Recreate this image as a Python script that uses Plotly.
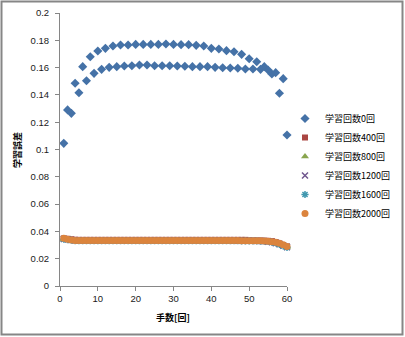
import plotly.graph_objects as go

moves = list(range(1, 61))

err_0 = [0.1045, 0.1290, 0.1265, 0.1485, 0.1416, 0.1607, 0.1504, 0.1680, 0.1558, 0.1722,
         0.1587, 0.1741, 0.1602, 0.1758, 0.1607, 0.1766, 0.1612, 0.1766, 0.1614, 0.1770,
         0.1619, 0.1770, 0.1619, 0.1770, 0.1614, 0.1770, 0.1614, 0.1773, 0.1614, 0.1770,
         0.1612, 0.1768, 0.1610, 0.1768, 0.1607, 0.1763, 0.1607, 0.1758, 0.1607, 0.1741,
         0.1602, 0.1736, 0.1599, 0.1724, 0.1597, 0.1716, 0.1595, 0.1697, 0.1590, 0.1665,
         0.1590, 0.1643, 0.1587, 0.1607, 0.1582, 0.1553, 0.1563, 0.1412, 0.1519, 0.1106]

err_400 = [0.0348, 0.0346, 0.0342, 0.0339, 0.0338, 0.0338, 0.0338, 0.0338, 0.0338, 0.0338,
           0.0338, 0.0338, 0.0338, 0.0338, 0.0338, 0.0338, 0.0338, 0.0338, 0.0338, 0.0338,
           0.0338, 0.0338, 0.0338, 0.0338, 0.0338, 0.0338, 0.0338, 0.0338, 0.0338, 0.0338,
           0.0338, 0.0338, 0.0338, 0.0338, 0.0338, 0.0338, 0.0338, 0.0338, 0.0338, 0.0338,
           0.0338, 0.0338, 0.0338, 0.0338, 0.0338, 0.0338, 0.0338, 0.0338, 0.0338, 0.0333,
           0.0333, 0.0333, 0.0333, 0.0332, 0.0331, 0.0329, 0.0322, 0.0312, 0.0300, 0.0290]

err_800 = [0.0343, 0.0340, 0.0336, 0.0333, 0.0332, 0.0332, 0.0332, 0.0332, 0.0332, 0.0332,
           0.0332, 0.0332, 0.0332, 0.0332, 0.0332, 0.0332, 0.0332, 0.0332, 0.0332, 0.0332,
           0.0332, 0.0332, 0.0332, 0.0332, 0.0332, 0.0332, 0.0332, 0.0332, 0.0332, 0.0332,
           0.0332, 0.0332, 0.0332, 0.0332, 0.0332, 0.0332, 0.0332, 0.0332, 0.0332, 0.0332,
           0.0332, 0.0332, 0.0332, 0.0332, 0.0332, 0.0331, 0.0331, 0.0331, 0.0330, 0.0330,
           0.0330, 0.0329, 0.0328, 0.0327, 0.0323, 0.0317, 0.0312, 0.0305, 0.0296, 0.0286]

err_1200 = [0.0344, 0.0341, 0.0337, 0.0334, 0.0333, 0.0333, 0.0333, 0.0333, 0.0333, 0.0333,
            0.0333, 0.0333, 0.0333, 0.0333, 0.0333, 0.0333, 0.0333, 0.0333, 0.0333, 0.0333,
            0.0333, 0.0333, 0.0333, 0.0333, 0.0333, 0.0333, 0.0333, 0.0333, 0.0333, 0.0333,
            0.0333, 0.0333, 0.0333, 0.0333, 0.0333, 0.0333, 0.0333, 0.0333, 0.0333, 0.0333,
            0.0333, 0.0333, 0.0333, 0.0333, 0.0333, 0.0332, 0.0332, 0.0332, 0.0331, 0.0331,
            0.0331, 0.0330, 0.0329, 0.0328, 0.0325, 0.0320, 0.0314, 0.0306, 0.0296, 0.0285]

err_1600 = [0.0343, 0.0340, 0.0336, 0.0333, 0.0332, 0.0332, 0.0332, 0.0332, 0.0332, 0.0332,
            0.0332, 0.0332, 0.0332, 0.0332, 0.0332, 0.0332, 0.0332, 0.0332, 0.0332, 0.0332,
            0.0332, 0.0332, 0.0332, 0.0332, 0.0332, 0.0332, 0.0332, 0.0332, 0.0332, 0.0332,
            0.0332, 0.0332, 0.0332, 0.0332, 0.0332, 0.0332, 0.0332, 0.0332, 0.0332, 0.0332,
            0.0332, 0.0332, 0.0332, 0.0332, 0.0332, 0.0332, 0.0332, 0.0331, 0.0331, 0.0331,
            0.0331, 0.0330, 0.0329, 0.0328, 0.0326, 0.0322, 0.0315, 0.0305, 0.0294, 0.0283]

err_2000 = [0.0350, 0.0343, 0.0337, 0.0334, 0.0333, 0.0333, 0.0333, 0.0333, 0.0333, 0.0333,
            0.0333, 0.0333, 0.0333, 0.0333, 0.0333, 0.0333, 0.0333, 0.0333, 0.0333, 0.0333,
            0.0333, 0.0333, 0.0333, 0.0333, 0.0333, 0.0333, 0.0333, 0.0333, 0.0333, 0.0333,
            0.0333, 0.0333, 0.0333, 0.0333, 0.0333, 0.0333, 0.0333, 0.0333, 0.0333, 0.0333,
            0.0333, 0.0333, 0.0333, 0.0333, 0.0333, 0.0333, 0.0333, 0.0332, 0.0332, 0.0332,
            0.0332, 0.0332, 0.0331, 0.0330, 0.0328, 0.0325, 0.0320, 0.0313, 0.0302, 0.0290]

series_names = ["学習回数0回", "学習回数400回", "学習回数800回", "学習回数1200回", "学習回数1600回", "学習回数2000回"]
series_values = [err_0, err_400, err_800, err_1200, err_1600, err_2000]
colors = ["#4572A7", "#AA4643", "#89A54E", "#71588F", "#4198AF", "#DB843D"]
symbols = ["diamond", "square", "triangle-up", "x-thin", "asterisk", "circle"]
sizes = [7, 6, 7, 6, 6, 7]

x_ticks = [0, 10, 20, 30, 40, 50, 60]
y_ticks = [0, 0.02, 0.04, 0.06, 0.08, 0.1, 0.12, 0.14, 0.16, 0.18, 0.2]
y_tick_text = ["0", "0.02", "0.04", "0.06", "0.08", "0.1", "0.12", "0.14", "0.16", "0.18", "0.2"]

fig = go.Figure()
for name, vals, c, s, sz in zip(series_names, series_values, colors, symbols, sizes):
    marker = dict(color=c, symbol=s, size=sz, line=dict(width=0))
    if s in ("x-thin", "asterisk"):
        marker["line"] = dict(color=c, width=1.5)
    fig.add_trace(go.Scatter(x=moves, y=vals, mode="markers", name=name, marker=marker,
                             cliponaxis=False))

W, H = 405, 337
ml, mr, mt, mb = 60, 118, 13, 51
pw, ph = W - ml - mr, H - mt - mb

def px_x(p):
    return (p - ml) / pw

def px_y(p):
    return (H - mb - p) / ph

tick_font = dict(family="Liberation Sans, sans-serif", size=9.5, color="#1a1a1a")

fig.update_layout(
    width=W, height=H,
    margin=dict(l=ml, r=mr, t=mt, b=mb, pad=0, autoexpand=False),
    paper_bgcolor="white", plot_bgcolor="white",
    font=dict(family="Noto Sans CJK JP, Liberation Sans, sans-serif", size=9, color="#000000"),
    showlegend=True,
    legend=dict(x=px_x(285), y=px_y(166), xanchor="left", yanchor="middle",
                bgcolor="rgba(0,0,0,0)", font=dict(size=9), tracegroupgap=0,
                itemwidth=30),
    xaxis=dict(range=[0, 60], tickvals=x_ticks, showgrid=False, zeroline=False,
               showline=True, linecolor="#868686", linewidth=1,
               ticks="outside", ticklen=4, tickcolor="#868686",
               tickfont=tick_font),
    yaxis=dict(range=[0, 0.2], tickvals=y_ticks, ticktext=y_tick_text, showgrid=False,
               zeroline=False, showline=True, linecolor="#868686", linewidth=1,
               ticks="outside", ticklen=4, tickcolor="#868686",
               tickfont=tick_font, ticklabelstandoff=4),
    annotations=[
        dict(text="<b>手数[回]</b>", x=px_x(173), y=px_y(317), xref="paper", yref="paper",
             showarrow=False, font=dict(size=9), xanchor="center", yanchor="middle"),
        dict(text="<b>学習誤差</b>", x=px_x(17), y=px_y(150), xref="paper", yref="paper",
             showarrow=False, font=dict(size=9), textangle=-90, xanchor="center", yanchor="middle"),
    ],
    shapes=[
        dict(type="rect", xref="paper", yref="paper",
             x0=px_x(1.5), x1=px_x(402.5), y0=px_y(334.5), y1=px_y(1.5),
             line=dict(color="#868686", width=2), fillcolor="rgba(0,0,0,0)", layer="below"),
    ],
)

fig.write_html("out.html")
